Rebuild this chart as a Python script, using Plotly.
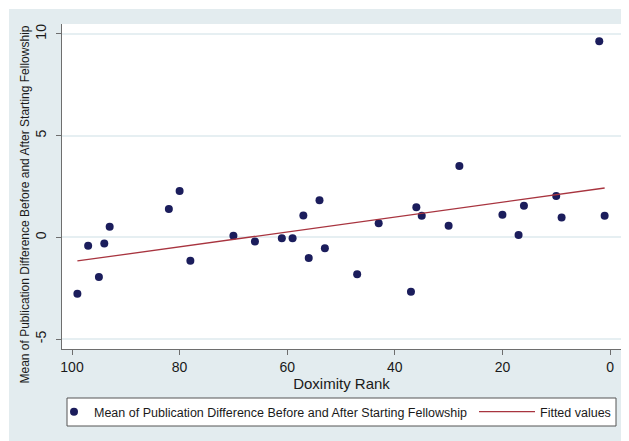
import numpy as np
import plotly.graph_objects as go

# Data
doximity_rank = [99, 97, 95, 94, 93, 82, 80, 78, 70, 66, 61, 59, 57, 56, 54,
                 53, 47, 43, 37, 36, 35, 30, 28, 20, 17, 16, 10, 9, 2, 1]
pub_diff_mean = [-2.77, -0.41, -1.95, -0.30, 0.52, 1.39, 2.28, -1.15, 0.08, -0.20,
                 -0.05, -0.05, 1.08, -1.02, 1.83, -0.54, -1.81, 0.69, -2.68, 1.48,
                 1.06, 0.57, 3.51, 1.11, 0.11, 1.55, 2.03, 0.98, 9.64, 1.06]
x_ticks = [0, 20, 40, 60, 80, 100]
y_ticks = [-5, 0, 5, 10]
scatter_name = "Mean of Publication Difference Before and After Starting Fellowship"
fit_name = "Fitted values"
x_title = "Doximity Rank"
y_title = "Mean of Publication Difference Before and After Starting Fellowship"

xa = np.array(doximity_rank, dtype=float)
ya = np.array(pub_diff_mean, dtype=float)
slope, intercept = np.polyfit(xa, ya, 1)
fit_x = [xa.max(), xa.min()]
fit_y = [intercept + slope * v for v in fit_x]

# page has an 8px body margin; figure sized to fill the rest of the window
OFF = 8
W, H = 629 - OFF, 441 - OFF
PL, PR, PT, PB = 62, 621, 24, 349          # plot area in screen pixels
ML, MR, MT, MB = PL - OFF, (629 - PR), PT - OFF, (441 - PB)
PW, PH = PR - PL, PB - PT


def px_x(s):
    return (s - PL) / PW


def px_y(s):
    return (PB - s) / PH


FONT = "Liberation Sans, Arial, sans-serif"
BG = "#e3ecef"
TXT = "#1a1a1a"
AX = "#6e6e6e"

fig = go.Figure()
fig.add_trace(go.Scatter(
    x=doximity_rank, y=pub_diff_mean, mode="markers", name=scatter_name,
    marker=dict(color="#1b1d5c", size=8, line=dict(width=0)),
    legend="legend",
))
fig.add_trace(go.Scatter(
    x=fit_x, y=fit_y, mode="lines", name=fit_name,
    line=dict(color="#a8343f", width=1.3),
    legend="legend2",
))

shapes = [
    dict(type="rect", xref="paper", yref="paper",
         x0=px_x(9), x1=px_x(640), y0=px_y(450), y1=px_y(9),
         fillcolor=BG, line=dict(width=0), layer="below"),
    dict(type="rect", xref="paper", yref="paper",
         x0=0, x1=1, y0=0, y1=1,
         fillcolor="white", line=dict(width=0), layer="below"),
    dict(type="rect", xref="paper", yref="paper",
         x0=px_x(67), x1=px_x(616), y0=px_y(426), y1=px_y(398),
         fillcolor="white", line=dict(color="#555555", width=1), layer="below"),
]

leg_common = dict(
    orientation="h", yanchor="middle", y=px_y(412),
    bgcolor="rgba(0,0,0,0)", borderwidth=0,
    font=dict(size=12.5, color=TXT, family=FONT),
)

fig.update_layout(
    width=W, height=H,
    margin=dict(l=ML, r=MR, t=MT, b=MB, autoexpand=False),
    paper_bgcolor="white",
    plot_bgcolor="rgba(0,0,0,0)",
    font=dict(family=FONT, color=TXT, size=14),
    shapes=shapes,
    showlegend=True,
    legend=dict(x=px_x(54), xanchor="left", itemwidth=30, **leg_common),
    legend2=dict(x=px_x(474), xanchor="left", itemwidth=56, **leg_common),
    annotations=[dict(
        text=y_title, xref="paper", yref="paper",
        x=px_x(24), y=px_y(204.5), xanchor="center", yanchor="middle",
        textangle=-90, showarrow=False,
        font=dict(size=12, color=TXT, family=FONT),
    )],
)

fig.update_xaxes(
    range=[101.86, -2.04], tickvals=x_ticks, ticktext=[str(v) for v in x_ticks],
    showgrid=False, zeroline=False, showline=True, linecolor=AX, linewidth=1,
    ticks="outside", ticklen=5, tickcolor=AX, tickwidth=1,
    tickfont=dict(size=14, color=TXT),
    title=dict(text=x_title, font=dict(size=15, color=TXT), standoff=2),
)
fig.update_yaxes(
    range=[-5.49, 10.49], tickvals=y_ticks, ticktext=[str(v) for v in y_ticks],
    showgrid=True, gridcolor="#e6eff2", gridwidth=1.5, zeroline=False,
    showline=True, linecolor=AX, linewidth=1,
    ticks="outside", ticklen=5, tickcolor=AX, tickwidth=1,
    tickangle=-90, tickfont=dict(size=14, color=TXT), ticklabelstandoff=4,
)

fig.write_html("out.html")
